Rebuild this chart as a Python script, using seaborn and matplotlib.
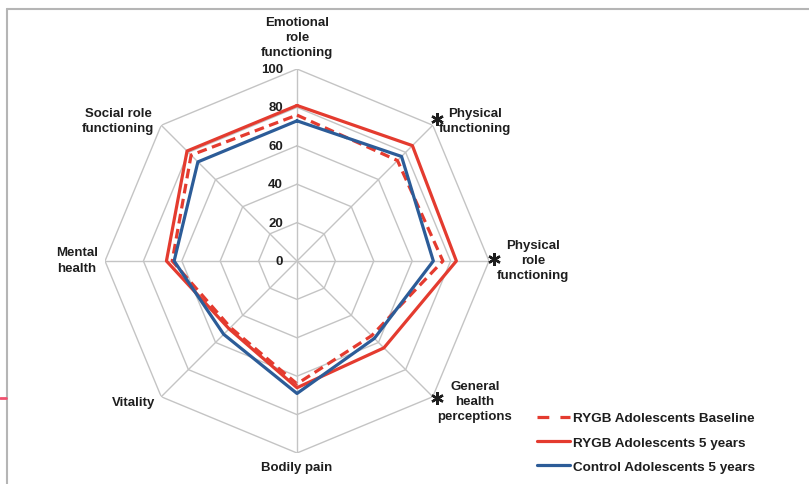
import numpy as np
import pandas as pd
import matplotlib
matplotlib.use("Agg")
import matplotlib.pyplot as plt
from matplotlib.lines import Line2D
from matplotlib.transforms import offset_copy
import seaborn as sns

# SF-36 domains, clockwise from the top
categories = [
    "Emotional\nrole\nfunctioning",
    "Physical\nfunctioning",
    "Physical\nrole\nfunctioning",
    "General\nhealth\nperceptions",
    "Bodily pain",
    "Vitality",
    "Mental\nhealth",
    "Social role\nfunctioning",
]
significant = [False, True, True, True, False, False, False, False]

series_names = [
    "RYGB Adolescents Baseline",
    "RYGB Adolescents 5 years",
    "Control Adolescents 5 years",
]
rygb_baseline = [76, 74, 76, 55, 64, 49, 65, 78]
rygb_5_years = [81, 85, 83, 64, 66, 50, 68, 81]
control_5_years = [73, 77, 71, 57, 69, 54, 64, 73]

radial_ticks = [0, 20, 40, 60, 80, 100]

RED = "#E43B2F"
BLUE = "#2C5C98"
GRID = "#C4C4C4"
TEXT = "#1E1E1E"

sns.set_style("white")
plt.rcParams["font.family"] = ["Liberation Sans", "DejaVu Sans"]
plt.rcParams["font.weight"] = "bold"
plt.rcParams["lines.scale_dashes"] = False

W, H = 809, 485
fig = plt.figure(figsize=(W / 100, H / 100), dpi=100)

cx, cy, R = 297, 262, 192
ax = fig.add_axes([(cx - R) / W, (H - cy - R) / H, 2 * R / W, 2 * R / H],
                  projection="polar")
ax.set_theta_offset(np.pi / 2)
ax.set_theta_direction(-1)
ax.set_ylim(0, 100)
ax.grid(False)
ax.spines["polar"].set_visible(False)
ax.set_xticks([])
ax.set_yticks([])
ax.patch.set_alpha(0)

n = len(categories)
angles = np.arange(n) * 2 * np.pi / n
closed = np.append(angles, angles[0])

# polygonal grid and spokes
for r in radial_ticks[1:]:
    ax.plot(closed, [r] * (n + 1), color=GRID, lw=1.0, zorder=1)
for a in angles:
    ax.plot([a, a], [0, 100], color=GRID, lw=1.0, zorder=1)

# data lines
values = [rygb_baseline, rygb_5_years, control_5_years]
frames = []
for name, vals in zip(series_names, values):
    frames.append(pd.DataFrame({
        "theta": closed,
        "score": list(vals) + [vals[0]],
        "series": name,
    }))
df = pd.concat(frames, ignore_index=True)

palette = {series_names[0]: RED, series_names[1]: RED, series_names[2]: BLUE}
dashes = {series_names[0]: (7, 4), series_names[1]: "", series_names[2]: ""}
sns.lineplot(data=df, x="theta", y="score", hue="series", style="series",
             palette=palette, dashes=dashes, sort=False, estimator=None,
             lw=2.3, legend=False, ax=ax, zorder=3)
ax.set_xlabel("")
ax.set_ylabel("")

# radial tick labels beside the top spoke
for r in radial_ticks:
    tr = offset_copy(ax.transData, fig=fig, x=-14, y=0, units="dots")
    ax.text(0, r, str(r), transform=tr, ha="right", va="center",
            fontsize=9.5, fontweight="bold", color=TEXT)

# category labels (pixel offsets from each outer vertex)
label_offsets = [(0, 32), (42, 5), (44, 1), (42, -4),
                 (0, -14), (-28, -5), (-28, 1), (-43, 5)]
for a, lab, (dx, dy) in zip(angles, categories, label_offsets):
    tr = offset_copy(ax.transData, fig=fig, x=dx, y=dy, units="dots")
    ax.text(a, 100, lab, transform=tr, ha="center", va="center",
            fontsize=9.5, fontweight="bold", color=TEXT, linespacing=1.35,
            clip_on=False)

# significance asterisks
star_offsets = [None, (4, 6), (5, 2), (4, -1), None, None, None, None]
for a, sig, off in zip(angles, significant, star_offsets):
    if sig:
        tr = offset_copy(ax.transData, fig=fig, x=off[0], y=off[1], units="dots")
        ax.plot([a], [100], marker=(6, 2, 0), ms=9, mew=1.7, color=TEXT,
                transform=tr, clip_on=False, zorder=4)

# legend
handles = [
    Line2D([], [], color=RED, lw=2.3, dashes=(8.5, 8)),
    Line2D([], [], color=RED, lw=2.3),
    Line2D([], [], color=BLUE, lw=2.3),
]
fig.legend(handles, series_names, loc="upper left",
           bbox_to_anchor=(537 / W, 1 - 413 / H), frameon=False,
           prop={"size": 9.7, "weight": "bold"}, handlelength=2.45,
           handletextpad=0.2, labelspacing=0.87, borderpad=0,
           borderaxespad=0, labelcolor=TEXT)

# outer frame lines
fig.add_artist(Line2D([6.5 / W, 1], [1 - 9.5 / H, 1 - 9.5 / H],
                      transform=fig.transFigure, color="#B5B5B5", lw=1.5))
fig.add_artist(Line2D([6.5 / W, 6.5 / W], [0, 1 - 9.5 / H],
                      transform=fig.transFigure, color="#B5B5B5", lw=1.5))
fig.add_artist(Line2D([0, 6 / W], [1 - 399 / H, 1 - 399 / H],
                      transform=fig.transFigure, color="#F0506E", lw=2))

fig.savefig("out.png", dpi=100)
